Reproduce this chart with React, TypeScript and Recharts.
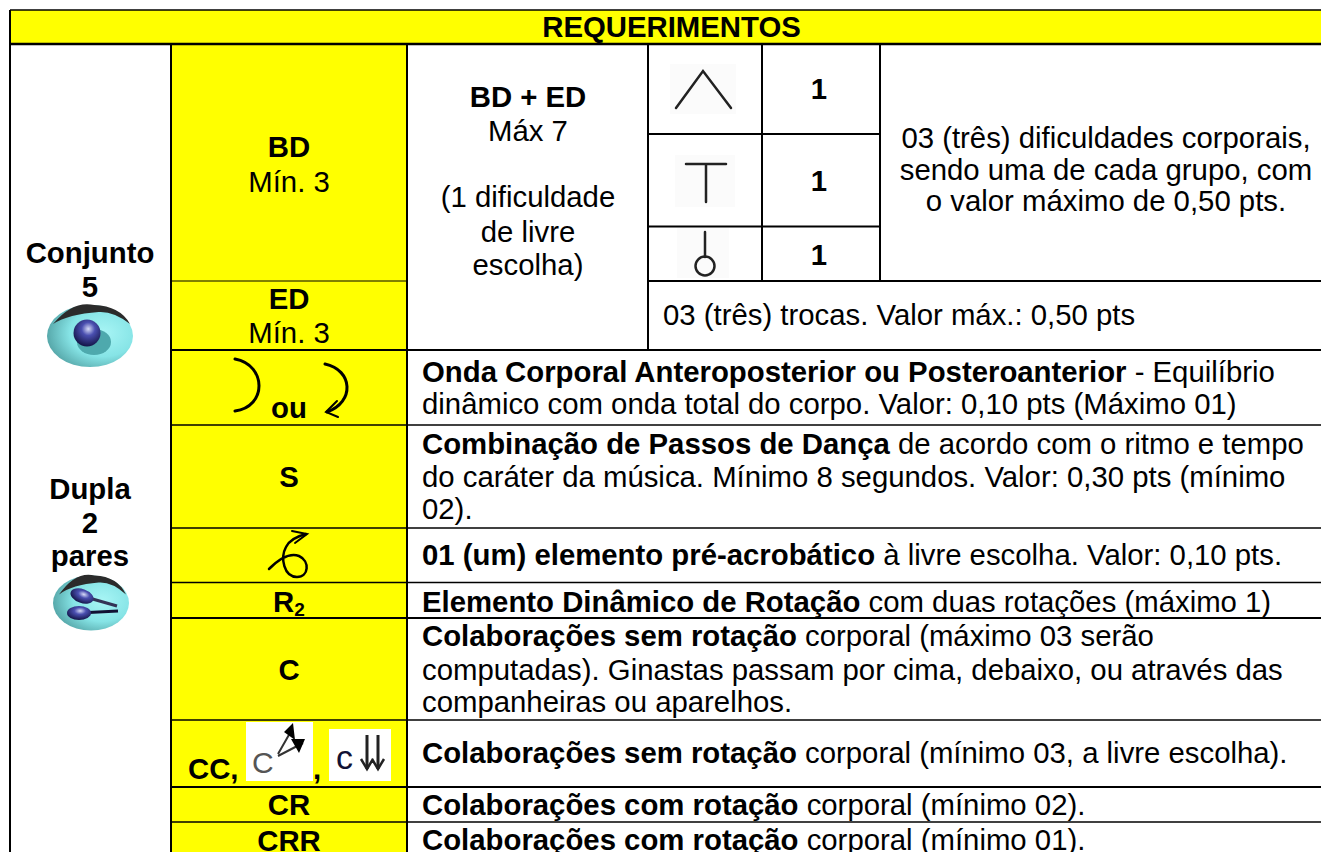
import { ScatterChart, Scatter, XAxis, YAxis, ReferenceArea, ReferenceLine } from 'recharts'

const W = 1321
const H = 852
const FONT = '"Liberation Sans", Arial, sans-serif'
const SIZE = 29.33

// table grid, in picture pixels (the axes run 1:1 over the page)
const colEdges = [10, 171, 407, 648, 762, 880, 1321]
const rowEdges = [10, 44, 134, 226.5, 281, 350, 425, 528, 582.5, 618, 720, 787, 822]

// texts, column by column
const headerText = ['REQUERIMENTOS']
const groupLabels = ['Conjunto', '5', 'Dupla', '2', 'pares']
const groupBaselines = [263, 297, 499, 533, 566]
const codeLabels = [
  ['BD', true], ['Mín. 3', false], ['ED', true], ['Mín. 3', false], ['ou', true],
  ['S', true], ['C', true], ['CR', true], ['CRR', true],
] as [string, boolean][]
const codeBaselines = [157, 192, 309, 343, 418, 487, 680, 815, 851]
const maxLabels = [
  ['BD + ED', true], ['Máx 7', false], ['(1 dificuldade', false], ['de livre', false], ['escolha)', false],
] as [string, boolean][]
const maxBaselines = [107, 141, 207, 242, 275]
const groupCounts = ['1', '1', '1']
const countBaselines = [99, 191, 265]
const bodyNote = ['03 (três) dificuldades corporais,', 'sendo uma de cada grupo, com', 'o valor máximo de 0,50 pts.']
const bodyNoteBaselines = [148, 180, 211]
const swapNote = '03 (três) trocas. Valor máx.: 0,50 pts'
const descBold = [
  'Onda Corporal Anteroposterior ou Posteroanterior', '',
  'Combinação de Passos de Dança', '', '',
  '01 (um) elemento pré-acrobático',
  'Elemento Dinâmico de Rotação',
  'Colaborações sem rotação', '', '',
  'Colaborações sem rotação',
  'Colaborações com rotação',
  'Colaborações com rotação',
]
const descPlain = [
  ' - Equilíbrio', 'dinâmico com onda total do corpo. Valor: 0,10 pts (Máximo 01)',
  ' de acordo com o ritmo e tempo', 'do caráter da música. Mínimo 8 segundos. Valor: 0,30 pts (mínimo', '02).',
  ' à livre escolha. Valor: 0,10 pts.',
  ' com duas rotações (máximo 1)',
  ' corporal (máximo 03 serão', 'computadas). Ginastas passam por cima, debaixo, ou através das', 'companheiras ou aparelhos.',
  ' corporal (mínimo 03, a livre escolha).',
  ' corporal (mínimo 02).',
  ' corporal (mínimo 01).',
]
const descBaselines = [382, 414, 454, 487, 519, 565, 612, 646, 680, 712, 763, 815, 850]

type TextPoint = { x: number; y: number; bold?: string; plain?: string; anchor?: string; sub?: string }

const textPoints: TextPoint[] = [
  { x: 671.5, y: 37, bold: headerText[0], anchor: 'middle' },
  ...groupLabels.map((t, i) => ({ x: 90, y: groupBaselines[i], bold: t, anchor: 'middle' })),
  ...codeLabels.map(([t, b], i) => ({ x: 289, y: codeBaselines[i], [b ? 'bold' : 'plain']: t, anchor: 'middle' })),
  { x: 289, y: 612, bold: 'R', sub: '2', anchor: 'middle' },
  { x: 188, y: 779, bold: 'CC,' },
  { x: 313, y: 779, bold: ',' },
  ...maxLabels.map(([t, b], i) => ({ x: 528, y: maxBaselines[i], [b ? 'bold' : 'plain']: t, anchor: 'middle' })),
  ...groupCounts.map((t, i) => ({ x: 819, y: countBaselines[i], bold: t, anchor: 'middle' })),
  ...bodyNote.map((t, i) => ({ x: 1106, y: bodyNoteBaselines[i], plain: t, anchor: 'middle' })),
  { x: 663, y: 325, plain: swapNote },
  ...descPlain.map((t, i) => ({ x: 422, y: descBaselines[i], bold: descBold[i], plain: t })),
]

const iconPoints = [
  { x: 703, y: 90, icon: 'caret' },
  { x: 706, y: 183, icon: 'tee' },
  { x: 705, y: 250, icon: 'lollipop' },
  { x: 250, y: 385, icon: 'arc' },
  { x: 335, y: 388, icon: 'arcArrow' },
  { x: 288, y: 555, icon: 'acro' },
  { x: 279, y: 751, icon: 'cArrows' },
  { x: 360, y: 755, icon: 'cDown' },
  { x: 90, y: 336, icon: 'eye' },
  { x: 90, y: 603, icon: 'clubs' },
]

function TextShape({ cx, cy, payload }: any) {
  const p = payload as TextPoint
  return (
    <text x={cx} y={cy} textAnchor={p.anchor ?? 'start'} fontFamily={FONT} fontSize={SIZE} fill="#000" xmlSpace="preserve">
      {p.bold ? <tspan fontWeight={700}>{p.bold}</tspan> : null}
      {p.sub ? <tspan fontWeight={700} fontSize={19} dy={4}>{p.sub}</tspan> : null}
      {p.plain ? <tspan>{p.plain}</tspan> : null}
    </text>
  )
}

function Lens({ cx, cy, rx, ry }: any) {
  return (
    <g>
      <ellipse cx={cx} cy={cy} rx={rx} ry={ry} fill="url(#lens)" />
      <path
        d={`M${cx - rx + 6} ${cy - ry + 19} Q${cx - rx * 0.4} ${cy - ry - 5} ${cx + rx * 0.1} ${cy - ry} Q${cx + rx * 0.7} ${cy - ry + 1} ${cx + rx - 3} ${cy - ry + 19} Q${cx + rx * 0.55} ${cy - ry + 6} ${cx + rx * 0.2} ${cy - ry + 7} Q${cx - rx * 0.5} ${cy - ry + 9} ${cx - rx + 6} ${cy - ry + 19}Z`}
        fill="#2b2b2b"
      />
    </g>
  )
}

function IconShape({ cx, cy, payload }: any) {
  const line = { fill: 'none', stroke: '#000', strokeWidth: 2.5, strokeLinecap: 'round' as const }
  switch (payload.icon) {
    case 'caret':
      return (
        <g>
          <rect x={cx - 33} y={cy - 26} width={66} height={50} fill="#fbfbfb" />
          <path d={`M${cx - 27} ${cy + 18} L${cx} ${cy - 19} L${cx + 28} ${cy + 18}`} {...line} stroke="#222" />
        </g>
      )
    case 'tee':
      return (
        <g>
          <rect x={cx - 31} y={cy - 28} width={60} height={52} fill="#fbfbfb" />
          <path d={`M${cx - 20} ${cy - 19} H${cx + 20} M${cx} ${cy - 19} V${cy + 19}`} {...line} stroke="#222" />
        </g>
      )
    case 'lollipop':
      return (
        <g>
          <rect x={cx - 28} y={cy - 22} width={52} height={50} fill="#fbfbfb" />
          <path d={`M${cx} ${cy - 18} V${cy + 7}`} {...line} stroke="#222" />
          <circle cx={cx} cy={cy + 16} r={9.5} {...line} stroke="#222" />
        </g>
      )
    case 'arc':
      return <path d={`M${cx - 15} ${cy - 26} C${cx + 17} ${cy - 20} ${cx + 17} ${cy + 22} ${cx - 15} ${cy + 26}`} {...line} strokeWidth={3} />
    case 'arcArrow':
      return (
        <g>
          <path d={`M${cx - 10} ${cy - 24} C${cx + 18} ${cy - 18} ${cx + 20} ${cy + 14} ${cx - 8} ${cy + 24}`} {...line} strokeWidth={3} />
          <path d={`M${cx + 2} ${cy + 13} L${cx - 9} ${cy + 24} L${cx + 3} ${cy + 29}`} {...line} strokeWidth={2} />
        </g>
      )
    case 'acro':
      return (
        <g>
          <path
            d={`M${cx - 19} ${cy + 14} C${cx - 8} ${cy + 3} ${cx + 3} ${cy - 2} ${cx + 11} ${cy + 1} C${cx + 22} ${cy + 6} ${cx + 21} ${cy + 22} ${cx + 9} ${cy + 22} C${cx - 4} ${cy + 22} ${cx - 8} ${cy + 3} ${cx - 2} ${cy - 8} C${cx + 1} ${cy - 14} ${cx + 6} ${cy - 18} ${cx + 18} ${cy - 21}`}
            {...line}
          />
          <path d={`M${cx + 4} ${cy - 24} L${cx + 19} ${cy - 21} L${cx + 7} ${cy - 12}`} {...line} strokeWidth={2} />
        </g>
      )
    case 'cArrows':
      return (
        <g>
          <rect x={cx - 33} y={cy - 29} width={67} height={59} fill="#fff" />
          <text x={cx - 27} y={cy + 22} fontFamily={FONT} fontSize={30} fill="#555">C</text>
          <path d={`M${cx - 1} ${cy + 3} L${cx + 11} ${cy - 18} M${cx - 1} ${cy + 5} L${cx + 24} ${cy - 8}`} fill="none" stroke="#333" strokeWidth={2} />
          <path d={`M${cx + 5} ${cy - 19} L${cx + 14} ${cy - 28} L${cx + 16} ${cy - 11}Z M${cx + 12} ${cy - 12} L${cx + 26} ${cy - 12} L${cx + 20} ${cy + 2}Z`} fill="#000" />
        </g>
      )
    case 'cDown':
      return (
        <g>
          <rect x={cx - 31} y={cy - 26} width={62} height={52} fill="#fff" />
          <text x={cx - 24} y={cy + 14} fontFamily={FONT} fontSize={34} fill="#113">c</text>
          <path d={`M${cx + 7} ${cy - 20} V${cy + 14} M${cx + 18} ${cy - 20} V${cy + 14}`} stroke="#222" strokeWidth={3} />
          <path d={`M${cx + 1} ${cy + 4} L${cx + 7} ${cy + 14} L${cx + 13} ${cy + 4} M${cx + 12} ${cy + 4} L${cx + 18} ${cy + 14} L${cx + 24} ${cy + 4}`} fill="none" stroke="#222" strokeWidth={2.5} />
        </g>
      )
    case 'eye':
      return (
        <g>
          <Lens cx={cx} cy={cy} rx={43} ry={31} />
          <ellipse cx={cx + 4} cy={cy + 6} rx={17} ry={13} fill="#4ea9ad" />
          <circle cx={cx - 3} cy={cy - 3} r={13.5} fill="url(#ball)" />
        </g>
      )
    case 'clubs':
      return (
        <g>
          <Lens cx={cx + 1} cy={cy} rx={38} ry={27.5} />
          <path d={`M${cx - 8} ${cy - 7} L${cx + 27} ${cy + 3}`} stroke="#335" strokeWidth={3} />
          <path d={`M${cx - 11} ${cy + 10} L${cx + 28} ${cy + 8}`} stroke="#113" strokeWidth={3} />
          <ellipse cx={cx - 8} cy={cy - 7} rx={12} ry={7} fill="url(#ball)" transform={`rotate(20 ${cx - 8} ${cy - 7})`} />
          <ellipse cx={cx - 11} cy={cy + 10} rx={12} ry={7} fill="url(#ball)" />
        </g>
      )
    default:
      return null
  }
}

const hLine = (y: number, x1: number, x2: number, w: number) => (
  <ReferenceLine key={`h${y}-${x1}`} segment={[{ x: x1, y }, { x: x2, y }]} stroke="#000" strokeWidth={w} ifOverflow="visible" />
)
const vLine = (x: number, y1: number, y2: number, w: number) => (
  <ReferenceLine key={`v${x}`} segment={[{ x, y: y1 }, { x, y: y2 }]} stroke="#000" strokeWidth={w} ifOverflow="visible" />
)

export default function App() {
  const [c0, c1, c2, c3, c4, c5, c6] = colEdges
  const r = rowEdges
  return (
    <div style={{ position: 'absolute', left: 0, top: 0, width: W, height: H, background: '#fff', overflow: 'hidden' }}>
      <ScatterChart width={W} height={H} margin={{ top: 0, right: 0, bottom: 0, left: 0 }}>
        <defs>
          <radialGradient id="ball" cx="0.55" cy="0.35" r="0.7">
            <stop offset="0" stopColor="#d8dcf8" />
            <stop offset="0.35" stopColor="#4a4fb0" />
            <stop offset="1" stopColor="#0d0d3a" />
          </radialGradient>
          <radialGradient id="lens" cx="0.65" cy="0.45" r="0.7">
            <stop offset="0" stopColor="#a8f5f5" />
            <stop offset="0.55" stopColor="#86e4e6" />
            <stop offset="1" stopColor="#4f9ea0" />
          </radialGradient>
        </defs>
        <XAxis type="number" dataKey="x" domain={[0, W]} hide />
        <YAxis type="number" dataKey="y" domain={[0, H]} reversed hide />
        <ReferenceArea x1={c0} x2={c6} y1={r[0]} y2={r[1]} fill="#ffff00" fillOpacity={1} stroke="none" ifOverflow="visible" />
        <ReferenceArea x1={c1} x2={c2} y1={r[1]} y2={H} fill="#ffff00" fillOpacity={1} stroke="none" ifOverflow="visible" />
        {hLine(r[0], c0, c6, 1.5)}
        {hLine(r[1], c0, c6, 2.5)}
        {hLine(r[2], c3, c5, 2)}
        {hLine(r[3], c3, c5, 2)}
        {hLine(r[4], c1, c2, 1)}
        {hLine(r[4], c3, c6, 2)}
        {hLine(r[5], c1, c6, 2)}
        {hLine(r[6], c1, c6, 1.5)}
        {hLine(r[7], c1, c6, 1.5)}
        {hLine(r[8], c1, c6, 1.5)}
        {hLine(r[9], c1, c6, 2)}
        {hLine(r[10], c1, c6, 1.5)}
        {hLine(r[11], c1, c6, 2)}
        {hLine(r[12], c1, c6, 1.5)}
        {vLine(c0, r[0], H, 2)}
        {vLine(c1, r[1], H, 2)}
        {vLine(c2, r[1], H, 2)}
        {vLine(c3, r[1], r[5], 2)}
        {vLine(c4, r[1], r[4], 2)}
        {vLine(c5, r[1], r[4], 2)}
        <Scatter data={iconPoints} shape={<IconShape />} isAnimationActive={false} />
        <Scatter data={textPoints} shape={<TextShape />} isAnimationActive={false} />
      </ScatterChart>
    </div>
  )
}
